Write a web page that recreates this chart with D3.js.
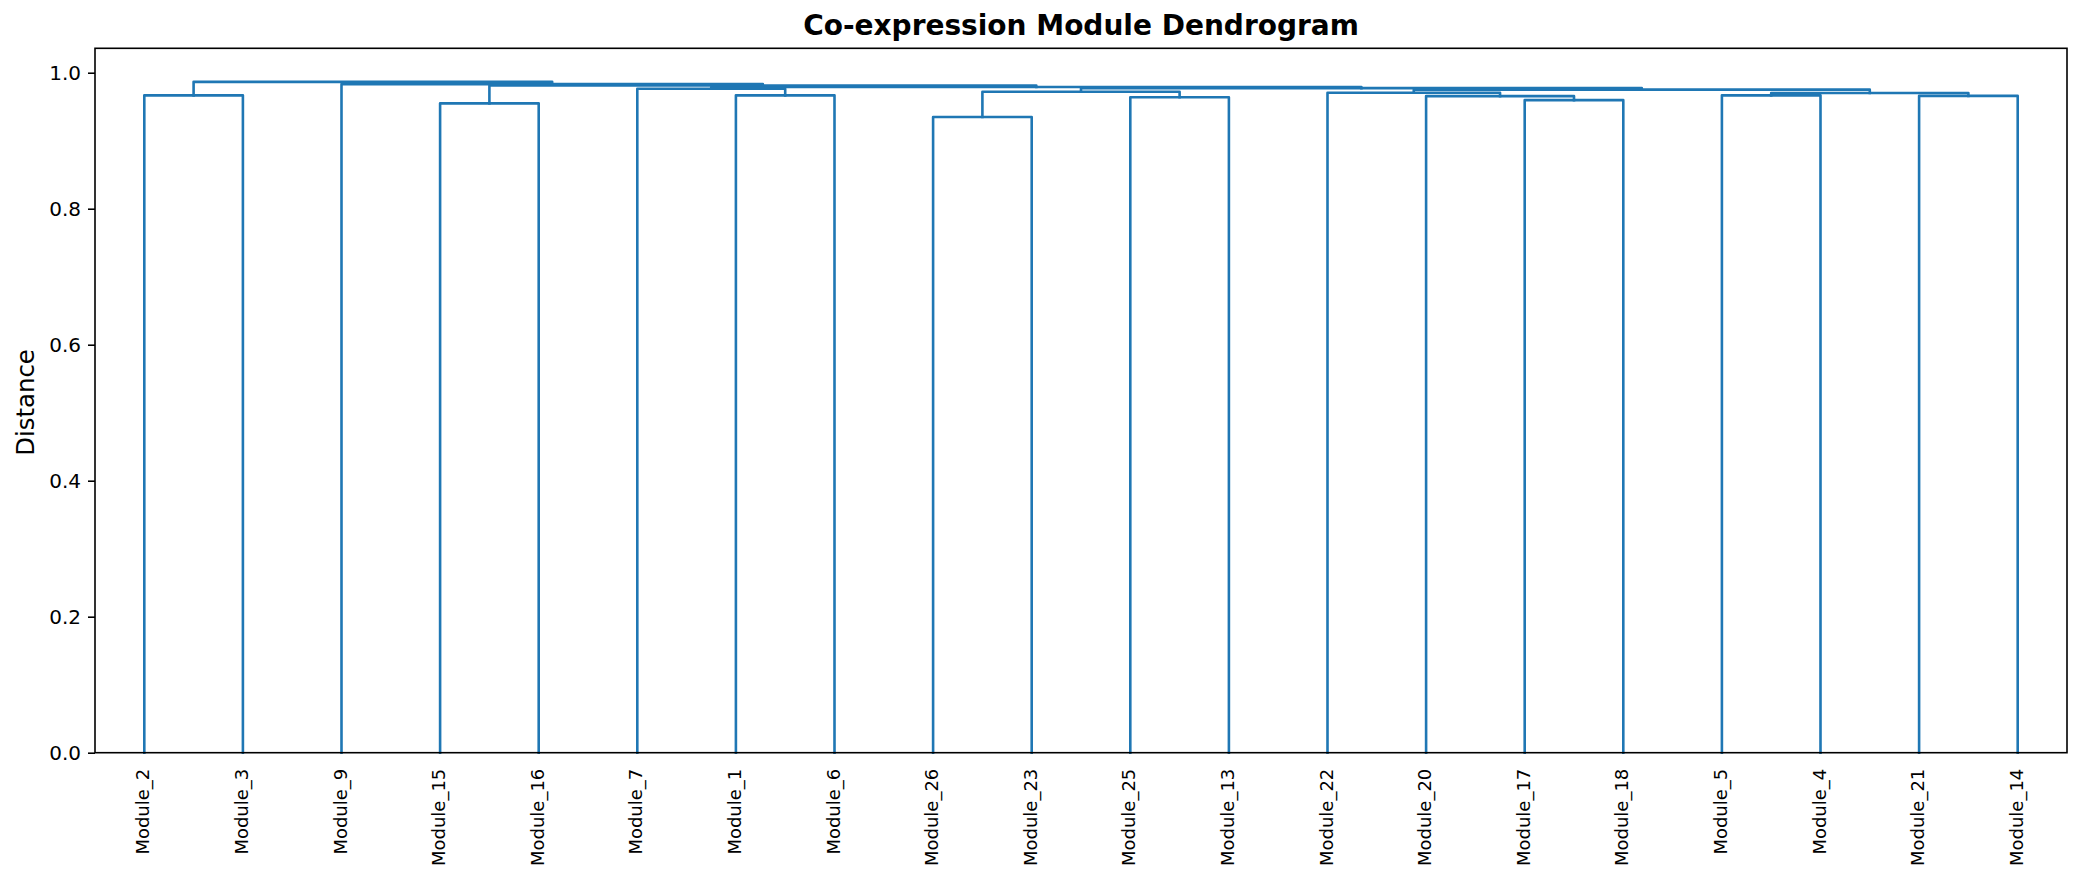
<!DOCTYPE html>
<html>
<head>
<meta charset="utf-8">
<script src="https://cdn.jsdelivr.net/npm/d3@7"></script>
<style>
  html, body { margin: 0; padding: 0; background: #ffffff; }
  svg { display: block; }
  text { font-family: "DejaVu Sans", sans-serif; fill: #000; }
</style>
</head>
<body>
<svg id="chart" width="2082" height="884"></svg>
<script>
// ---------------- DATA ----------------
// Leaf labels in dendrogram order (left to right)
const leafLabels = ["Module_2","Module_3","Module_9","Module_15","Module_16","Module_7","Module_1","Module_6",
  "Module_26","Module_23","Module_25","Module_13","Module_22","Module_20","Module_17","Module_18",
  "Module_5","Module_4","Module_21","Module_14"];

// Merges (scipy linkage style): leaves are 0..19 (by order), new cluster ids start at 20
const mergeLeft  = [ 8,  3, 14, 10, 13, 18,  0,  6, 16, 12, 28, 20, 29,  5, 31, 33, 21,  2, 26];
const mergeRight = [ 9,  4, 15, 11, 22, 19,  1,  7, 17, 24, 25, 23, 30, 27, 32, 34, 35, 36, 37];
const mergeHeight = [0.935, 0.955, 0.9597, 0.964, 0.9656, 0.9660, 0.9667, 0.9667, 0.9667, 0.9706,
  0.9703, 0.9720, 0.9751, 0.9765, 0.9773, 0.9791, 0.9813, 0.9832, 0.9866];

const yTicks = [0.0, 0.2, 0.4, 0.6, 0.8, 1.0];
const titleText = "Co-expression Module Dendrogram";
const yLabelText = "Distance";

// ---------------- LAYOUT ----------------
const svg = d3.select("#chart");
const L = 95, R = 2067, T = 48.3, B = 752.7;
const n = leafLabels.length;
const maxH = d3.max(mergeHeight);

const x = d3.scaleLinear().domain([0, n * 10]).range([L, R]);
const y = d3.scaleLinear().domain([0, maxH * 1.05]).range([B, T]);

// node positions (in data units)
const nodeX = [], nodeH = [];
leafLabels.forEach((d, i) => { nodeX[i] = 5 + 10 * i; nodeH[i] = 0; });
const links = [];
mergeLeft.forEach((a, k) => {
  const b = mergeRight[k], h = mergeHeight[k], id = n + k;
  nodeX[id] = (nodeX[a] + nodeX[b]) / 2;
  nodeH[id] = h;
  links.push({ xs: [nodeX[a], nodeX[a], nodeX[b], nodeX[b]], hs: [nodeH[a], h, h, nodeH[b]] });
});

const color = "#1f77b4";
const line = d3.line().x(d => x(d[0])).y(d => y(d[1]));

svg.append("g").selectAll("path").data(links).join("path")
  .attr("d", d => line(d.xs.map((v, i) => [v, d.hs[i]])))
  .attr("fill", "none")
  .attr("stroke", color)
  .attr("stroke-width", 2.6)
  .attr("stroke-linejoin", "round")
  .attr("stroke-linecap", "square");

// ---------------- AXES ----------------
// Y axis
const yAxis = d3.axisLeft(y).tickValues(yTicks).tickFormat(d3.format(".1f")).tickSize(7).tickPadding(7);
const gy = svg.append("g").attr("transform", `translate(${L},0)`).call(yAxis);
gy.select(".domain").remove();
gy.selectAll(".tick line").attr("stroke", "#000").attr("stroke-width", 1.6);
gy.selectAll(".tick text")
  .attr("font-family", "DejaVu Sans, sans-serif")
  .attr("font-size", 20)
  .attr("fill", "#000")
  .attr("dy", "0.36em");

// X axis labels (no tick marks)
const xAxis = d3.axisBottom(x).tickValues(leafLabels.map((d, i) => 5 + 10 * i))
  .tickFormat((d, i) => leafLabels[i]).tickSize(0);
const gx = svg.append("g").attr("transform", `translate(0,${B})`).call(xAxis);
gx.select(".domain").remove();
gx.selectAll(".tick line").remove();
gx.selectAll(".tick text")
  .attr("font-family", "DejaVu Sans, sans-serif")
  .attr("font-size", 18)
  .attr("fill", "#000")
  .attr("text-anchor", "end")
  .attr("transform", "rotate(-90)")
  .attr("x", -16)
  .attr("y", 0)
  .attr("dy", "0.25em");

// Frame (spines)
svg.append("rect")
  .attr("x", L).attr("y", T).attr("width", R - L).attr("height", B - T)
  .attr("fill", "none").attr("stroke", "#000").attr("stroke-width", 1.6);

// Title
svg.append("text")
  .attr("x", (L + R) / 2).attr("y", 35)
  .attr("text-anchor", "middle")
  .attr("font-size", 28).attr("font-weight", "bold")
  .text(titleText);

// Y label
svg.append("text")
  .attr("transform", `translate(33.5,${(T + B) / 2 + 2}) rotate(-90)`)
  .attr("text-anchor", "middle")
  .attr("font-size", 24.4)
  .text(yLabelText);
</script>
</body>
</html>
